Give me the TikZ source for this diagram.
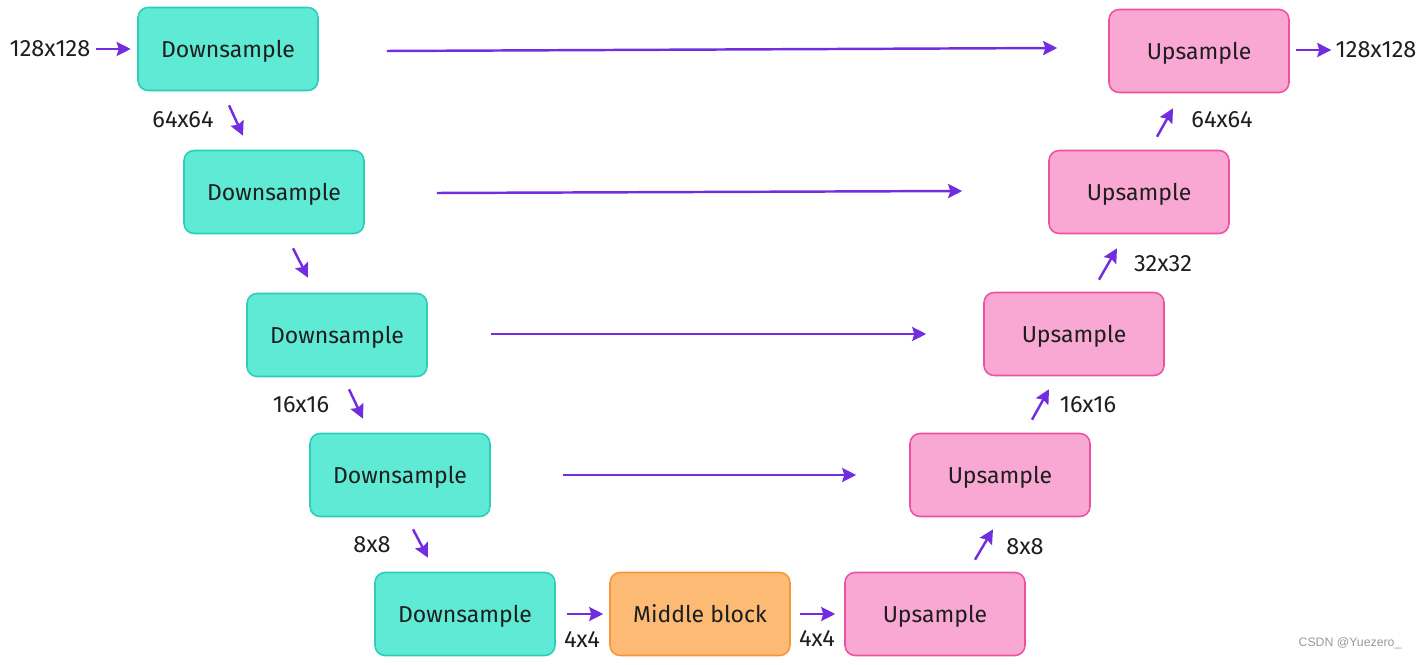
\documentclass[tikz,border=0pt]{standalone}
\usepackage{fontspec}
\setmainfont{Fira Sans}
\newfontfamily\markfont{Liberation Sans}
\usetikzlibrary{arrows.meta, positioning, calc}
\definecolor{downfill}{RGB}{94,234,212}
\definecolor{downline}{RGB}{45,205,185}
\definecolor{upfill}{RGB}{249,168,212}
\definecolor{upline}{RGB}{236,82,160}
\definecolor{midfill}{RGB}{253,186,116}
\definecolor{midline}{RGB}{248,150,60}
\definecolor{flowc}{RGB}{115,45,225}
\definecolor{textc}{RGB}{30,30,30}

\tikzset{
  block/.style={draw, rectangle, rounded corners=0.2cm, line width=0.9pt, minimum width=3.6cm, minimum height=1.66cm, text depth=0pt, text=textc, font=\fontsize{13.1}{15}\selectfont},
  downbox/.style={block, fill=downfill, draw=downline},
  upbox/.style={block, fill=upfill, draw=upline},
  midbox/.style={block, fill=midfill, draw=midline},
  dim/.style={inner sep=0pt, text=textc, font=\fontsize{13.4}{15}\selectfont},
  flow/.style={-{Stealth[length=8pt, width=8pt, inset=1.2pt]}, line width=1.4pt, draw=flowc}
}

\begin{document}
\begin{tikzpicture}[x=0.02cm, y=-0.02cm]
  \useasboundingbox (0,0) rectangle (1423,665);

  % Downsampling path
  \node[downbox] (down1) at (228,49) {Downsample};
  \node[downbox] (down2) at (274,192) {Downsample};
  \node[downbox] (down3) at (337,335) {Downsample};
  \node[downbox] (down4) at (400,475) {Downsample};
  \node[downbox] (down5) at (465,614) {Downsample};

  % Bottleneck
  \node[midbox] (middle) at (700,614) {Middle block};

  % Upsampling path
  \node[upbox] (up5) at (935,614) {Upsample};
  \node[upbox] (up4) at (1000,475) {Upsample};
  \node[upbox] (up3) at (1074,334) {Upsample};
  \node[upbox] (up2) at (1139,192) {Upsample};
  \node[upbox] (up1) at (1199,51) {Upsample};

  % Resolution labels
  \node[dim] (inres) at (50,49) {128x128};
  \node[dim] (outres) at (1376,50) {128x128};
  \node[dim] (d64) at (183,120) {64x64};
  \node[dim] (d16) at (301,405) {16x16};
  \node[dim] (d8) at (372,545) {8x8};
  \node[dim] (m4a) at (582,640) {4x4};
  \node[dim] (m4b) at (817,639) {4x4};
  \node[dim] (u8) at (1025,547) {8x8};
  \node[dim] (u16) at (1088,405) {16x16};
  \node[dim] (u32) at (1163,264) {32x32};
  \node[dim] (u64) at (1222,120) {64x64};

  % Input and output
  \draw[flow, shorten <=0.1cm, shorten >=0.13cm] (inres) -- (down1);
  \draw[flow, shorten <=0.12cm, shorten >=0.08cm] (up1.east |- outres.west) -- (outres.west);

  % Down arrows
  \draw[flow] ($(down1.south)+(1,14)$) -- ($(down2.north)+(-31,-14)$);
  \draw[flow] ($(down2.south)+(19,14)$) -- ($(down3.north)+(-29,-15)$);
  \draw[flow] ($(down3.south)+(12,12)$) -- ($(down4.north)+(-37,-14)$);
  \draw[flow] ($(down4.south)+(13,12)$) -- ($(down5.north)+(-37,-14)$);

  % Through the middle block
  \draw[flow, shorten <=0.22cm, shorten >=0.12cm] (down5) -- (middle);
  \draw[flow, shorten <=0.18cm, shorten >=0.18cm] (middle) -- (up5);

  % Up arrows
  \draw[flow] ($(up5.north)+(40,-12)$) -- ($(up4.south)+(-7,12)$);
  \draw[flow] ($(up4.north)+(32,-13)$) -- ($(up3.south)+(-25,13)$);
  \draw[flow] ($(up3.north)+(25,-12)$) -- ($(up2.south)+(-22,14)$);
  \draw[flow] ($(up2.north)+(18,-13)$) -- ($(up1.south)+(-26,15)$);

  % Skip connections
  \draw[flow] ($(down1.east)+(68,2)$) -- ($(up1.west)+(-51,-3)$);
  \draw[flow] ($(down2.east)+(72,1)$) -- ($(up2.west)+(-86,-1)$);
  \draw[flow] ($(down3.east)+(63,-1)$) -- ($(up3.west)+(-57,0)$);
  \draw[flow] ($(down4.east)+(72,0)$) -- ($(up4.west)+(-53,0)$);

  % Watermark
  \node[font=\markfont\fontsize{7}{9}\selectfont, text=gray!80] (mark) at (1350,643) {CSDN @Yuezero\_};
\end{tikzpicture}
\end{document}
